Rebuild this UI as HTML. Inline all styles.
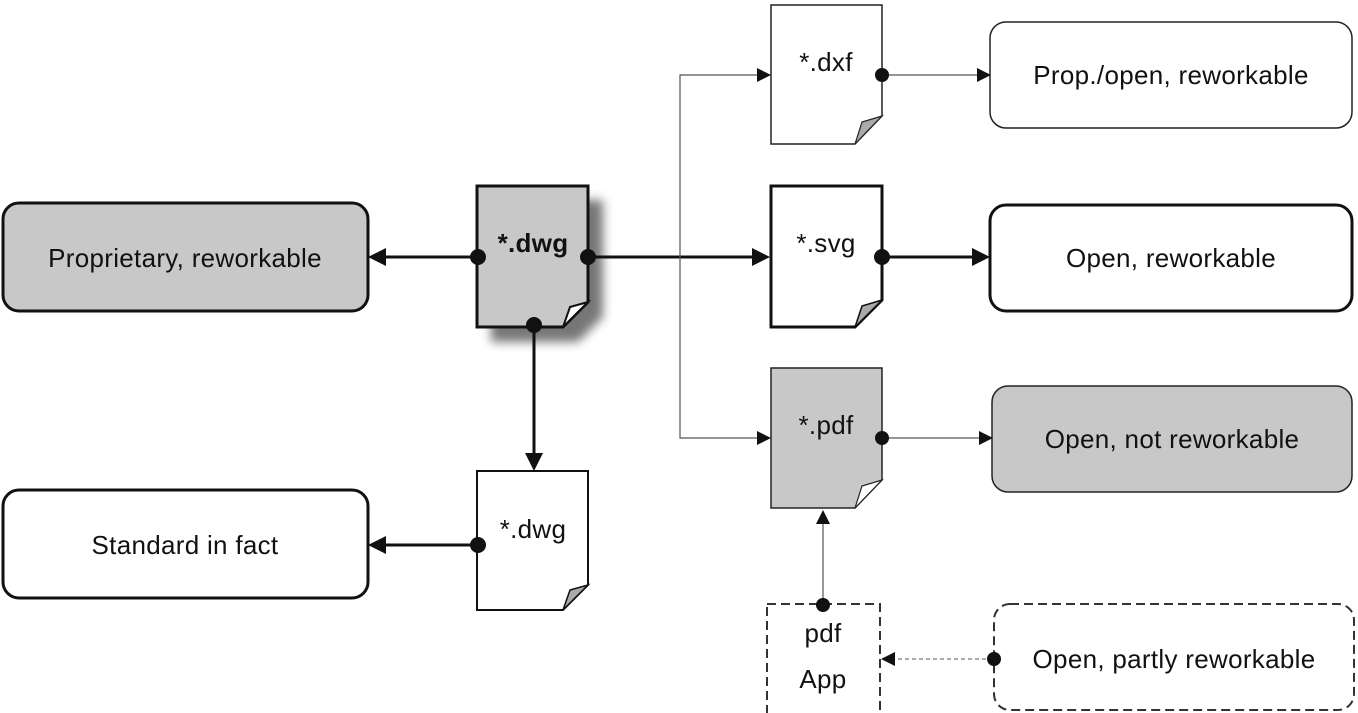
<!DOCTYPE html>
<html><head><style>
html,body{margin:0;padding:0;background:#fff;}
svg{display:block;}
text{font-family:"Liberation Sans",sans-serif;fill:#111;font-size:26px;letter-spacing:0.3px;}
</style></head><body>
<svg width="1358" height="713" viewBox="0 0 1358 713" xmlns="http://www.w3.org/2000/svg">
<defs>
<filter id="blur" x="-30%" y="-30%" width="160%" height="160%"><feGaussianBlur stdDeviation="5"/></filter>
</defs>
<rect x="3" y="203" width="365" height="108" rx="16" fill="#c8c8c8" stroke="#111" stroke-width="3"/>
<text x="185" y="267" text-anchor="middle">Proprietary, reworkable</text>
<rect x="3" y="490" width="365" height="108" rx="16" fill="#fff" stroke="#111" stroke-width="3"/>
<text x="185" y="554" text-anchor="middle">Standard in fact</text>
<rect x="990" y="22" width="362" height="106" rx="16" fill="#fff" stroke="#222" stroke-width="1.5"/>
<text x="1171" y="84" text-anchor="middle">Prop./open, reworkable</text>
<rect x="990" y="205" width="362" height="106" rx="16" fill="#fff" stroke="#111" stroke-width="3"/>
<text x="1171" y="267" text-anchor="middle">Open, reworkable</text>
<rect x="992" y="386" width="360" height="106" rx="16" fill="#c8c8c8" stroke="#222" stroke-width="1.5"/>
<text x="1172" y="448" text-anchor="middle">Open, not reworkable</text>
<rect x="994" y="604" width="360" height="106" rx="16" fill="#fff" stroke="#333" stroke-width="2" stroke-dasharray="9,5"/>
<text x="1174" y="668" text-anchor="middle">Open, partly reworkable</text>
<rect x="767" y="604" width="113" height="110" fill="#fff" stroke="#333" stroke-width="2" stroke-dasharray="9,5"/>
<text x="823" y="642" text-anchor="middle">pdf</text>
<text x="823" y="688" text-anchor="middle">App</text>

<path d="M491 200 H603 V317 L578 342 H491 Z" fill="#555" filter="url(#blur)" opacity="0.8"/>
<path d="M477 186 H588 V302 L563 327 H477 Z" fill="#c8c8c8" stroke="#111" stroke-width="3"/>
<path d="M588 302 L563 327 L570 307 Z" fill="#fff" stroke="#111" stroke-width="2"/>
<text x="533" y="252" font-weight="bold" text-anchor="middle">*.dwg</text>

<path d="M477 471 H588 V585 L563 610 H477 Z" fill="#fff" stroke="#111" stroke-width="2"/>
<path d="M588 585 L563 610 L570 590 Z" fill="#aaa" stroke="#111" stroke-width="1.5"/>
<text x="533" y="538" text-anchor="middle">*.dwg</text>

<path d="M771 5 H882 V116 L855 144 H771 Z" fill="#fff" stroke="#222" stroke-width="1.5"/>
<path d="M882 116 L855 144 L862 122 Z" fill="#aaa" stroke="#222" stroke-width="1.2"/>
<text x="826" y="71" text-anchor="middle">*.dxf</text>

<path d="M771 186 H882 V300 L855 327 H771 Z" fill="#fff" stroke="#111" stroke-width="3"/>
<path d="M882 300 L855 327 L862 306 Z" fill="#aaa" stroke="#111" stroke-width="1.5"/>
<text x="826" y="252" text-anchor="middle">*.svg</text>

<path d="M771 368 H882 V480 L855 508 H771 Z" fill="#c8c8c8" stroke="#222" stroke-width="1.5"/>
<path d="M882 480 L855 508 L862 486 Z" fill="#fff" stroke="#222" stroke-width="1.2"/>
<text x="826" y="434" text-anchor="middle">*.pdf</text>

<g stroke="#111" fill="none">
<line x1="478" y1="257" x2="385" y2="257" stroke-width="3"/>
<line x1="588" y1="257" x2="755" y2="257" stroke-width="3"/>
<line x1="882" y1="257" x2="975" y2="257" stroke-width="3"/>
<line x1="534" y1="325" x2="534" y2="456" stroke-width="3"/>
<line x1="478" y1="545" x2="385" y2="545" stroke-width="3"/>
<polyline points="757,75 680,75 680,438 757,438" stroke="#555" stroke-width="1.2"/>
<line x1="882" y1="75" x2="977" y2="75" stroke="#555" stroke-width="1.2"/>
<line x1="882" y1="438" x2="979" y2="438" stroke="#555" stroke-width="1.2"/>
<line x1="823" y1="605" x2="823" y2="524" stroke="#555" stroke-width="1.2"/>
<line x1="993" y1="659" x2="895" y2="659" stroke="#777" stroke-width="1.2" stroke-dasharray="4,3"/>
</g>
<g fill="#111">
<polygon points="368,257 386,248 386,266"/>
<polygon points="770,257 752,248 752,266"/>
<polygon points="990,257 972,248 972,266"/>
<polygon points="534,471 525,453 543,453"/>
<polygon points="368,545 386,536 386,554"/>
<polygon points="771,75 757,68 757,82"/>
<polygon points="771,438 757,431 757,445"/>
<polygon points="991,75 977,68 977,82"/>
<polygon points="993,438 979,431 979,445"/>
<polygon points="823,510 816,524 830,524"/>
<polygon points="881,659 895,652 895,666"/>
<circle cx="478" cy="257" r="8"/>
<circle cx="588" cy="257" r="8"/>
<circle cx="534" cy="325" r="8"/>
<circle cx="882" cy="257" r="8"/>
<circle cx="478" cy="545" r="8"/>
<circle cx="882" cy="75" r="7"/>
<circle cx="882" cy="438" r="7"/>
<circle cx="823" cy="605" r="7"/>
<circle cx="994" cy="659" r="7"/>
</g>
</svg>
</body></html>
